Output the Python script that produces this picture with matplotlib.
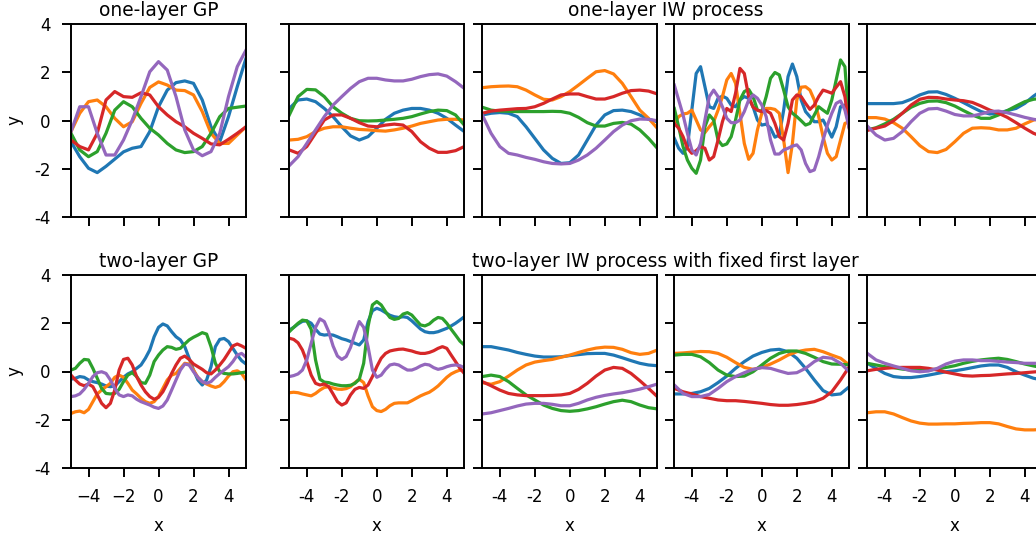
import numpy as np
import matplotlib
matplotlib.use('Agg')
import matplotlib.pyplot as plt

# sample grids
x_half = np.linspace(-5, 5, 21)
x_quarter = np.linspace(-5, 5, 41)

tick_pos = [-4, -2, 0, 2, 4]
tick_text = ['-4', '-2', '0', '2', '4']
colors = ['#1f77b4', '#ff7f0e', '#2ca02c', '#d62728', '#9467bd']

# row 1, column 1: one-layer GP (x_half)
one_gp = [
    [-0.88, -1.5, -1.98, -2.16, -1.9, -1.6, -1.3, -1.15, -1.08, -0.46, 0.57, 1.26, 1.57, 1.64, 1.54, 0.85, -0.26, -0.88, 0.16, 1.4, 2.58],
    [-0.46, 0.3, 0.78, 0.85, 0.57, 0.09, -0.26, -0.05, 0.71, 1.37, 1.6, 1.47, 1.26, 1.24, 1.06, 0.37, -0.53, -0.95, -0.95, -0.6, -0.26],
    [-0.53, -1.22, -1.5, -1.29, -0.53, 0.43, 0.78, 0.57, 0.09, -0.32, -0.6, -0.95, -1.22, -1.33, -1.29, -1.08, -0.53, 0.16, 0.5, 0.55, 0.6],
    [-0.81, -1.08, -1.22, -0.53, 0.85, 1.2, 0.99, 0.96, 1.15, 1.06, 0.57, 0.23, -0.05, -0.26, -0.53, -0.74, -0.97, -1.01, -0.78, -0.53, -0.26],
    [-0.46, 0.57, 0.57, -0.53, -1.43, -1.43, -0.81, 0.02, 0.99, 2.02, 2.44, 2.09, 0.99, -0.39, -1.22, -1.46, -1.29, -0.53, 0.99, 2.23, 2.92],
]

# row 1, columns 2-5: one-layer IW process
one_iw_a = [  # x_half
    [0.5, 0.85, 0.89, 0.78, 0.5, 0.16, -0.26, -0.64, -0.81, -0.67, -0.32, 0.05, 0.3, 0.43, 0.5, 0.5, 0.43, 0.3, 0.09, -0.19, -0.46],
    [-0.81, -0.78, -0.67, -0.46, -0.32, -0.26, -0.26, -0.32, -0.37, -0.39, -0.42, -0.44, -0.39, -0.32, -0.23, -0.12, -0.05, 0.02, 0.05, 0.05, 0.02],
    [0.23, 0.99, 1.29, 1.27, 0.99, 0.57, 0.3, 0.09, -0.01, -0.02, -0.01, 0.02, 0.05, 0.09, 0.16, 0.27, 0.37, 0.43, 0.41, 0.23, -0.19],
    [-1.22, -1.36, -1.08, -0.53, 0.02, 0.23, 0.23, 0.09, -0.09, -0.23, -0.26, -0.19, -0.15, -0.19, -0.46, -0.88, -1.15, -1.32, -1.32, -1.25, -1.08],
    [-1.87, -1.5, -0.95, -0.39, 0.16, 0.64, 0.99, 1.33, 1.61, 1.75, 1.75, 1.68, 1.64, 1.64, 1.71, 1.82, 1.9, 1.93, 1.84, 1.61, 1.33],
]
one_iw_b = [  # x_half
    [0.23, 0.3, 0.33, 0.3, 0.16, -0.26, -0.74, -1.22, -1.57, -1.78, -1.75, -1.43, -0.81, -0.19, 0.23, 0.41, 0.43, 0.37, 0.23, 0.05, -0.05],
    [1.36, 1.4, 1.42, 1.43, 1.4, 1.26, 1.06, 0.88, 0.85, 0.99, 1.2, 1.47, 1.75, 2.02, 2.07, 1.93, 1.54, 0.99, 0.43, 0.09, -0.32],
    [0.55, 0.43, 0.39, 0.38, 0.37, 0.37, 0.37, 0.37, 0.38, 0.37, 0.3, 0.13, -0.09, -0.23, -0.23, -0.12, -0.08, -0.15, -0.39, -0.74, -1.15],
    [0.3, 0.39, 0.43, 0.46, 0.49, 0.5, 0.57, 0.71, 0.89, 1.06, 1.1, 1.1, 0.99, 0.89, 0.89, 0.99, 1.13, 1.24, 1.26, 1.22, 1.1],
    [0.23, -0.53, -1.08, -1.36, -1.43, -1.53, -1.61, -1.71, -1.78, -1.8, -1.78, -1.64, -1.43, -1.15, -0.81, -0.46, -0.19, -0.01, 0.06, 0.05, -0.01],
]
one_iw_c = [  # x_quarter
    [-0.74, -1.15, -1.36, -1.08, 0.43, 1.95, 2.23, 1.4, 0.57, 0.5, 0.92, 1.01, 0.92, 0.64, 0.57, 0.85, 0.99, 0.92, 0.57, 0.02, -0.19,
     -0.15, -0.32, -0.69, -0.6, 0.43, 1.82, 2.34, 1.82, 0.85, 0.37, 0.16, -0.05, -0.05, 0.02, -0.32, -0.69, -0.26, 0.57, 0.64, -0.26],
    [-0.12, 0.16, 0.27, 0.3, 0.43, 0.02, -0.39, -0.5, -0.26, -0.05, 0.43, 0.99, 1.68, 1.95, 1.54, 0.3, -0.95, -1.61, -1.36, -0.39, 0.3,
     0.5, 0.5, 0.46, 0.3, -0.81, -2.16, -0.95, 0.85, 1.38, 1.4, 1.26, 0.85, 0.16, -0.67, -1.36, -1.64, -1.5, -0.81, -0.12, -0.05],
    [0.5, -0.26, -1.08, -1.64, -1.98, -2.19, -1.64, -0.26, 0.23, 0.02, -0.81, -1.04, -0.97, -0.67, 0.02, 0.85, 1.2, 1.29, 0.99, 0.43, 0.37,
     0.99, 1.75, 1.99, 1.89, 1.26, 0.57, 0.3, 0.16, -0.01, -0.19, -0.12, 0.23, 0.57, 0.43, 0.3, 0.85, 1.68, 2.51, 2.23, -0.26],
    [-0.12, -0.32, -0.67, -1.15, -1.36, -1.25, -1.08, -1.15, -1.64, -1.5, -0.81, -0.05, 0.5, 0.37, 1.13, 2.16, 1.95, 0.99, 0.55, 0.43, 0.37,
     0.41, 0.3, -0.12, -0.67, -0.81, -0.12, 0.85, 1.06, 0.99, 0.71, 0.46, 0.64, 0.99, 1.26, 1.2, 1.13, 1.38, 1.61, 0.99, -0.32],
    [1.47, 0.85, 0.23, -0.53, -1.22, -1.43, -0.95, 0.02, 0.99, 1.26, 0.99, 0.57, 0.09, -0.09, -0.09, 0.02, 0.37, 0.85, 1.06, 0.92, 0.64,
     0.16, -0.81, -1.39, -1.39, -1.22, -1.15, -1.06, -1.01, -1.22, -1.78, -2.12, -2.05, -1.5, -0.81, -0.19, 0.3, 0.71, 0.81, 0.43, -0.32],
]
one_iw_d = [  # x_half
    [0.7, 0.7, 0.7, 0.7, 0.74, 0.88, 1.06, 1.18, 1.19, 1.08, 0.92, 0.74, 0.55, 0.37, 0.27, 0.3, 0.41, 0.5, 0.71, 1.01, 1.26],
    [0.12, 0.12, 0.06, -0.09, -0.32, -0.67, -1.04, -1.29, -1.33, -1.2, -0.88, -0.53, -0.32, -0.3, -0.32, -0.39, -0.39, -0.32, -0.14, 0.02, 0.09],
    [-0.39, -0.3, -0.14, 0.05, 0.3, 0.55, 0.71, 0.8, 0.81, 0.74, 0.6, 0.41, 0.23, 0.09, 0.09, 0.23, 0.41, 0.6, 0.78, 0.88, 0.92],
    [-0.41, -0.32, -0.23, -0.01, 0.3, 0.64, 0.88, 0.96, 0.95, 0.89, 0.85, 0.82, 0.75, 0.6, 0.43, 0.3, 0.13, -0.09, -0.32, -0.53, -0.67],
    [-0.23, -0.6, -0.81, -0.74, -0.46, -0.05, 0.3, 0.48, 0.5, 0.39, 0.25, 0.19, 0.19, 0.27, 0.37, 0.39, 0.32, 0.23, 0.13, 0.05, -0.01],
]

# row 2, column 1: two-layer GP (x_quarter)
two_gp = [
    [-0.32, -0.28, -0.21, -0.24, -0.35, -0.42, -0.46, -0.52, -0.6, -0.63, -0.6, -0.42, -0.24, -0.1, -0.01, 0.13, 0.27, 0.55, 0.89, 1.44, 1.83,
     1.97, 1.89, 1.65, 1.44, 1.31, 1.03, 0.55, 0.06, -0.35, -0.56, -0.35, 0.2, 1.03, 1.33, 1.37, 1.24, 0.96, 0.68, 0.45, 0.31],
    [-1.74, -1.67, -1.64, -1.71, -1.57, -1.25, -0.93, -0.77, -0.63, -0.49, -0.24, -0.15, -0.24, -0.49, -0.77, -0.93, -1.11, -1.25, -1.32, -1.25, -1.04,
     -0.7, -0.35, -0.15, -0.08, 0.13, 0.34, 0.31, 0.06, -0.24, -0.42, -0.52, -0.6, -0.66, -0.6, -0.42, -0.19, -0.01, 0.03, -0.08, -0.35],
    [0.06, 0.13, 0.34, 0.5, 0.48, 0.13, -0.28, -0.7, -0.91, -0.93, -0.91, -0.74, -0.42, -0.15, -0.05, -0.21, -0.46, -0.49, -0.15, 0.41, 0.68,
     0.89, 1.03, 1.0, 0.92, 0.96, 1.14, 1.31, 1.42, 1.51, 1.61, 1.55, 1.03, 0.34, -0.01, -0.08, -0.1, -0.1, -0.08, -0.05, -0.02],
    [-0.15, -0.35, -0.52, -0.59, -0.52, -0.63, -0.97, -1.32, -1.5, -1.32, -0.77, 0.06, 0.5, 0.55, 0.27, -0.21, -0.56, -0.84, -1.04, -1.15, -1.07,
     -0.84, -0.49, -0.08, 0.27, 0.55, 0.64, 0.5, 0.31, 0.2, 0.09, -0.05, -0.1, 0.06, 0.27, 0.5, 0.78, 1.06, 1.14, 1.06, 0.96],
    [-1.04, -1.01, -0.93, -0.74, -0.49, -0.21, -0.05, -0.01, -0.08, -0.35, -0.7, -0.97, -1.04, -0.97, -1.01, -1.15, -1.25, -1.32, -1.39, -1.48, -1.53,
     -1.43, -1.18, -0.77, -0.35, 0.06, 0.31, 0.27, -0.01, -0.24, -0.42, -0.49, -0.42, -0.24, -0.08, 0.06, 0.2, 0.41, 0.68, 0.75, 0.59],
]

# row 2, columns 2-5: two-layer IW process with fixed first layer
two_iw_a = [  # x_quarter
    [1.72, 1.83, 1.97, 2.08, 2.1, 2.0, 1.75, 1.55, 1.51, 1.53, 1.51, 1.44, 1.36, 1.31, 1.24, 1.17, 1.1, 1.31, 2.07, 2.52, 2.62,
     2.55, 2.44, 2.33, 2.27, 2.24, 2.27, 2.24, 2.1, 1.93, 1.76, 1.65, 1.61, 1.61, 1.65, 1.72, 1.79, 1.89, 2.0, 2.13, 2.27],
    [-0.88, -0.86, -0.88, -0.93, -0.97, -1.01, -0.91, -0.77, -0.66, -0.63, -0.68, -0.73, -0.74, -0.71, -0.63, -0.46, -0.32, -0.46, -1.01, -1.46, -1.62,
     -1.66, -1.57, -1.42, -1.32, -1.3, -1.3, -1.3, -1.21, -1.11, -1.01, -0.93, -0.86, -0.74, -0.6, -0.42, -0.24, -0.1, -0.01, 0.06, 0.03],
    [1.65, 1.83, 2.0, 2.13, 2.1, 1.75, 0.48, -0.32, -0.44, -0.46, -0.52, -0.56, -0.59, -0.59, -0.57, -0.49, -0.32, 0.34, 1.86, 2.76, 2.9,
     2.76, 2.48, 2.24, 2.16, 2.2, 2.38, 2.44, 2.34, 2.13, 1.93, 1.89, 1.97, 2.13, 2.24, 2.2, 2.0, 1.75, 1.51, 1.26, 1.1],
    [1.38, 1.33, 1.19, 0.89, 0.41, -0.15, -0.49, -0.56, -0.52, -0.63, -0.93, -1.25, -1.39, -1.3, -0.97, -0.74, -0.66, -0.7, -0.56, -0.21, 0.2,
     0.55, 0.75, 0.85, 0.89, 0.92, 0.93, 0.89, 0.85, 0.79, 0.75, 0.75, 0.79, 0.86, 0.96, 1.03, 0.96, 0.68, 0.41, 0.13, -0.08],
    [-0.21, -0.17, -0.1, 0.06, 0.48, 1.17, 1.83, 2.18, 2.07, 1.65, 1.06, 0.64, 0.5, 0.62, 1.0, 1.58, 2.07, 1.83, 1.03, 0.06, -0.24,
     -0.15, 0.09, 0.27, 0.31, 0.27, 0.16, 0.06, 0.06, 0.13, 0.23, 0.3, 0.27, 0.16, 0.09, 0.13, 0.2, 0.25, 0.27, 0.24, 0.16],
]
two_iw_b = [  # x_half
    [1.03, 1.03, 0.96, 0.89, 0.79, 0.71, 0.64, 0.6, 0.6, 0.61, 0.66, 0.7, 0.74, 0.75, 0.75, 0.68, 0.57, 0.45, 0.34, 0.27, 0.24],
    [-0.46, -0.53, -0.42, -0.19, 0.06, 0.27, 0.39, 0.45, 0.5, 0.59, 0.68, 0.79, 0.89, 0.97, 1.01, 1.0, 0.92, 0.78, 0.71, 0.75, 0.89],
    [-0.21, -0.15, -0.21, -0.42, -0.7, -0.97, -1.18, -1.39, -1.53, -1.62, -1.65, -1.62, -1.55, -1.46, -1.35, -1.25, -1.19, -1.25, -1.39, -1.5, -1.55],
    [-0.42, -0.59, -0.77, -0.91, -0.97, -1.0, -1.0, -1.0, -0.99, -0.97, -0.91, -0.74, -0.49, -0.19, 0.06, 0.17, 0.13, -0.08, -0.38, -0.7, -1.04],
    [-1.76, -1.71, -1.62, -1.53, -1.43, -1.35, -1.32, -1.32, -1.36, -1.42, -1.42, -1.32, -1.18, -1.07, -0.99, -0.93, -0.88, -0.81, -0.73, -0.63, -0.52],
]
two_iw_c = [  # x_half
    [-0.93, -0.93, -0.91, -0.84, -0.7, -0.46, -0.19, 0.13, 0.41, 0.64, 0.79, 0.89, 0.92, 0.82, 0.55, 0.13, -0.35, -0.79, -0.97, -0.93, -0.63],
    [0.75, 0.77, 0.8, 0.83, 0.82, 0.75, 0.59, 0.37, 0.17, 0.09, 0.17, 0.31, 0.48, 0.68, 0.82, 0.89, 0.92, 0.82, 0.68, 0.55, 0.27],
    [0.68, 0.71, 0.71, 0.61, 0.37, 0.06, -0.15, -0.21, -0.19, -0.01, 0.27, 0.55, 0.75, 0.85, 0.85, 0.75, 0.59, 0.41, 0.31, 0.3, 0.27],
    [-0.7, -0.84, -0.93, -1.04, -1.11, -1.18, -1.21, -1.21, -1.24, -1.28, -1.32, -1.37, -1.4, -1.4, -1.37, -1.32, -1.25, -1.11, -0.84, -0.35, 0.2],
    [-0.56, -0.91, -1.04, -1.04, -0.95, -0.7, -0.42, -0.21, -0.05, 0.09, 0.16, 0.13, 0.02, -0.08, -0.05, 0.13, 0.41, 0.59, 0.55, 0.34, -0.01],
]
two_iw_d = [  # x_half
    [0.34, 0.13, -0.08, -0.21, -0.25, -0.25, -0.21, -0.15, -0.08, -0.01, 0.03, 0.09, 0.16, 0.23, 0.27, 0.27, 0.17, -0.01, -0.15, -0.28, -0.35],
    [-1.71, -1.67, -1.67, -1.76, -1.91, -2.05, -2.14, -2.18, -2.18, -2.17, -2.17, -2.15, -2.14, -2.12, -2.12, -2.17, -2.28, -2.38, -2.42, -2.42, -2.4],
    [0.34, 0.27, 0.2, 0.16, 0.1, 0.06, 0.06, 0.06, 0.1, 0.17, 0.24, 0.34, 0.42, 0.48, 0.52, 0.55, 0.5, 0.41, 0.31, 0.23, 0.16],
    [0.03, 0.09, 0.13, 0.16, 0.17, 0.17, 0.17, 0.13, 0.06, -0.03, -0.1, -0.17, -0.19, -0.17, -0.16, -0.13, -0.1, -0.08, -0.05, -0.02, 0.01],
    [0.75, 0.48, 0.34, 0.23, 0.13, 0.03, -0.01, 0.02, 0.13, 0.31, 0.43, 0.48, 0.48, 0.45, 0.45, 0.42, 0.39, 0.37, 0.34, 0.34, 0.34],
]

rows = [
    [(x_half, one_gp), (x_half, one_iw_a), (x_half, one_iw_b), (x_quarter, one_iw_c), (x_half, one_iw_d)],
    [(x_quarter, two_gp), (x_quarter, two_iw_a), (x_half, two_iw_b), (x_half, two_iw_c), (x_half, two_iw_d)],
]

W, H = 1036, 540
fig = plt.figure(figsize=(W / 100, H / 100), dpi=100)

lefts = [71, 289.3, 482.3, 674.3, 867.3]
tops = [24, 275]
pw, ph = 175, 193
fs_tick = 12
fs_title = 13.4

for r, row in enumerate(rows):
    for c, (xs, series) in enumerate(row):
        ax = fig.add_axes([lefts[c] / W, (H - tops[r] - ph) / H, pw / W, ph / H])
        for ys, col in zip(series, colors):
            ax.plot(xs, ys, color=col, lw=2.3, solid_joinstyle='round')
        ax.set_xlim(-5, 5)
        ax.set_ylim(-4, 4)
        ax.set_xticks(tick_pos)
        ax.set_yticks(tick_pos)
        for sp in ax.spines.values():
            sp.set_linewidth(1.4)
        ax.tick_params(length=6.5, width=1.4, labelsize=fs_tick, pad=8)
        if c == 0:
            ax.set_yticklabels(tick_text)
            ax.set_ylabel('y', fontsize=fs_tick, labelpad=8)
        else:
            ax.set_yticklabels([])
        if r == 0:
            ax.set_xticklabels([])
        else:
            if c > 0:
                ax.set_xticklabels(tick_text)
            ax.set_xlabel('x', fontsize=fs_tick, labelpad=8)
        if c == 0:
            ax.set_title(['one-layer GP', 'two-layer GP'][r], fontsize=fs_title, pad=6)

# group titles spanning columns 2-5
group_titles = ['one-layer IW process', 'two-layer IW process with fixed first layer']
cx = (lefts[1] + lefts[4] + pw) / 2 / W
for r, t in enumerate(group_titles):
    y = (H - tops[r] + 6 * 100 / 72) / H
    fig.text(cx, y, t, ha='center', va='baseline', fontsize=fs_title)

fig.savefig('out.png', dpi=100)
